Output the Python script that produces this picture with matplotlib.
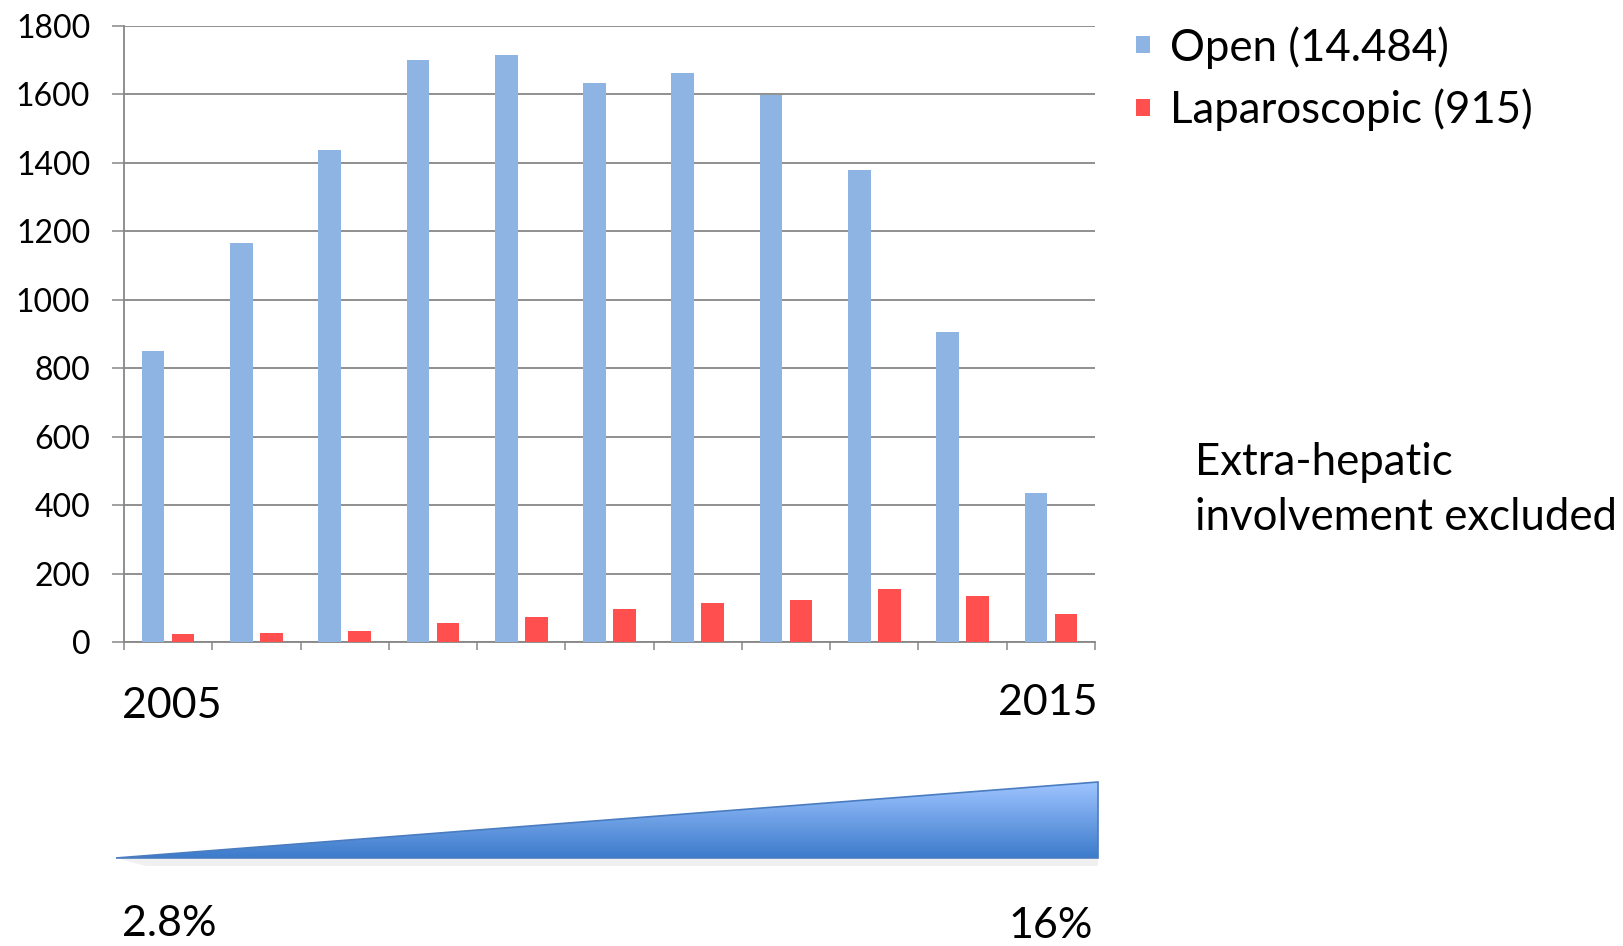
import matplotlib.pyplot as plt
import numpy as np
from matplotlib.patches import Patch, Polygon
from matplotlib.colors import LinearSegmentedColormap

plt.rcParams['font.family'] = ['Lato', 'DejaVu Sans']

# values, one per year 2005..2015
years = list(range(2005, 2016))
open_cases = [851, 1166, 1438, 1700, 1714, 1634, 1663, 1599, 1380, 905, 434]
lap_cases = [24, 25, 32, 55, 73, 97, 113, 124, 156, 133, 83]
series_labels = ["Open (14.484)", "Laparoscopic (915)"]
lap_share = ["2.8%", "16%"]

blue = "#8EB4E3"
red = "#FF4F4F"
grid_col = "#878787"

W, H = 1624, 946
fig = plt.figure(figsize=(W / 100, H / 100), dpi=100)

# bar chart
ax = fig.add_axes([124 / W, 1 - 642 / H, (1095 - 124) / W, (642 - 26) / H])
x = np.arange(len(years))
bw = 0.257
ax.bar(x - 0.17, open_cases, bw, color=blue, zorder=3)
ax.bar(x + 0.17, lap_cases, bw, color=red, zorder=3)

ax.set_xlim(-0.5, len(years) - 0.5)
ax.set_ylim(0, 1800)
ax.set_yticks(range(0, 1801, 200))
ax.set_xticks(np.arange(-0.5, len(years), 1.0))
ax.set_xticklabels([])
ax.yaxis.grid(True, color=grid_col, lw=1.3, zorder=0)
ax.tick_params(axis='y', length=8.3, width=1.1, color=grid_col, pad=16, labelsize=23)
ax.tick_params(axis='x', length=6, width=1.1, color=grid_col)
for s in ['top', 'right']:
    ax.spines[s].set_visible(False)
for s in ['left', 'bottom']:
    ax.spines[s].set_color(grid_col)
    ax.spines[s].set_linewidth(1.3)

handles = [Patch(facecolor=blue, edgecolor='none'), Patch(facecolor=red, edgecolor='none')]
fig.legend(handles, series_labels, loc='upper left', bbox_to_anchor=(1136 / W, 1 - 26 / H),
           frameon=False, fontsize=31.5, handlelength=0.33, handleheight=0.22,
           handletextpad=0.45, labelspacing=0.45, borderpad=0, borderaxespad=0)

# overlay in pixel coordinates for the wedge
ov = fig.add_axes([0, 0, 1, 1], zorder=-1)
ov.set_xlim(0, W)
ov.set_ylim(H, 0)
ov.axis('off')

fig.text(1195 / W, 1 - 475 / H, "Extra-hepatic", fontsize=31.5)
fig.text(1195 / W, 1 - 530 / H, "involvement excluded", fontsize=31.5)

fig.text(122 / W, 1 - 718 / H, str(years[0]), fontsize=31)
fig.text(1098 / W, 1 - 715 / H, str(years[-1]), fontsize=31, ha='right')
fig.text(122 / W, 1 - 936 / H, lap_share[0], fontsize=31)
fig.text(1093 / W, 1 - 938 / H, lap_share[-1], fontsize=31, ha='right')

# trend wedge with a vertical gradient
x0, x1, ytop, ybot = 116, 1098, 782, 858
shadow = Polygon([[x0 + 4, ybot + 1], [x1, ybot + 1], [x1, ybot + 8], [x0 + 30, ybot + 8]],
                 closed=True, facecolor='#e2e2e2', edgecolor='none', alpha=0.5)
ov.add_patch(shadow)
wedge = Polygon([[x0, ybot], [x1, ytop], [x1, ybot]], closed=True,
                facecolor='none', edgecolor='#4A7CC0', lw=1.2)
ov.add_patch(wedge)
grad = np.linspace(0, 1, 100).reshape(-1, 1)
cmap = LinearSegmentedColormap.from_list('w', ['#9EC4FF', '#3C7BCB'])
im = ov.imshow(grad, cmap=cmap, extent=[x0, x1, ybot, ytop], aspect='auto', origin='upper')
im.set_clip_path(wedge)

fig.savefig("out.png", dpi=100)
